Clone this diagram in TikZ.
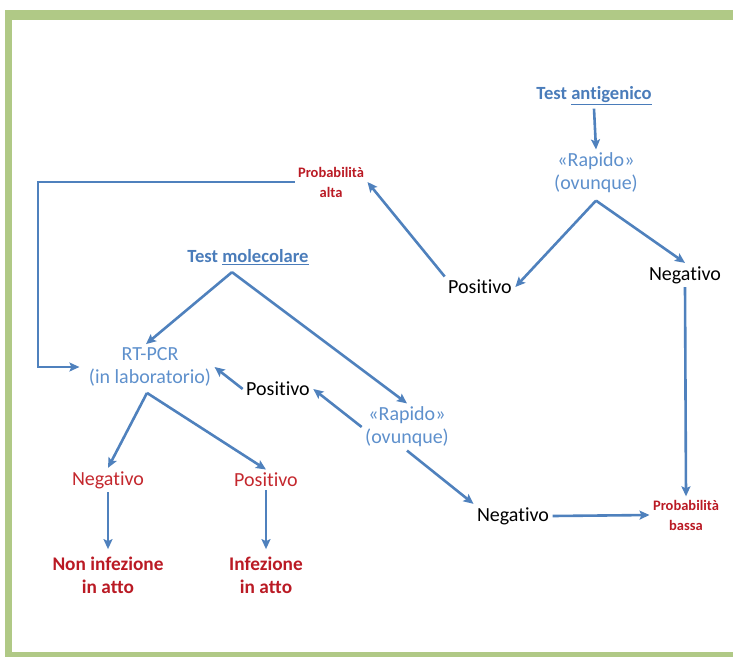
\documentclass[tikz,border=0pt]{standalone}
\usepackage{fontspec}
\setmainfont{Carlito}[Ligatures=NoCommon]
\usetikzlibrary{arrows.meta}
\definecolor{frameg}{RGB}{176,201,134}
\definecolor{arrb}{RGB}{79,129,189}
\definecolor{txtb}{RGB}{94,144,204}
\definecolor{titb}{RGB}{74,124,186}
\definecolor{txtr}{RGB}{196,40,46}
\definecolor{boldr}{RGB}{186,26,36}
\tikzset{
  arr/.style={draw=arrb,line width=2.6pt,-{Stealth[length=10pt,width=9pt,inset=2pt]}},
  title/.style={text=titb,font=\fontsize{18.6}{21}\selectfont\bfseries},
  test/.style={text=txtb,align=center,font=\fontsize{20}{23}\selectfont},
  result/.style={text=black,font=\fontsize{20}{22}\selectfont},
  outcome/.style={text=txtr,font=\fontsize{20}{22}\selectfont},
  prob/.style={text=boldr,align=center,font=\fontsize{14.5}{20}\selectfont\bfseries},
  final/.style={text=boldr,align=center,font=\fontsize{19.3}{23}\selectfont\bfseries}
}
\begin{document}
\begin{tikzpicture}[x=1pt,y=-1pt]
\useasboundingbox (0,0) rectangle (733,657);
\fill[frameg] (5,10) rectangle (733,20);
\fill[frameg] (5,10) rectangle (12,657);
\fill[frameg] (5,652) rectangle (733,657);

\node[title] (tant) at (594,96) {Test \underline{antigenico}};
\node[test] (rapA) at (596,173) {«Rapido»\\(ovunque)};
\node[result] (posA) at (480,287) {Positivo};
\node[result] (negA) at (685,275) {Negativo};
\node[prob] (palta) at (331,182) {Probabilità\\alta};
\node[prob] (pbassa) at (686,515) {Probabilità\\bassa};

\node[title] (tmol) at (248,257) {Test \underline{molecolare}};
\node[test] (rtpcr) at (150,367) {RT-PCR\\(in laboratorio)};
\node[test] (rapM) at (407,427) {«Rapido»\\(ovunque)};
\node[result] (posM) at (278,389) {Positivo};
\node[result] (negM) at (513,516) {Negativo};
\node[outcome] (negL) at (108,480) {Negativo};
\node[outcome] (posL) at (266,480) {Positivo};
\node[final] (noinf) at (108,575) {Non infezione\\in atto};
\node[final] (inf) at (266,575) {Infezione\\in atto};
\coordinate (corner) at (38,182);

\draw[arr] (tant.south) -- (rapA.north);
\draw[arr] ([yshift=-4pt]rapA.south) -- (posA.east);
\draw[arr] ([yshift=-4pt]rapA.south) -- (negA.north);
\draw[arr] (posA.north west) -- (palta.east);
\draw[arr] (negA.south) -- (pbassa.north);
\draw[arr] (palta.west) -- (corner) |- ([xshift=-6pt]rtpcr.west);

\draw[arr] ([xshift=-16pt,yshift=-4pt]tmol.south) -- ([xshift=-4pt]rtpcr.north);
\draw[arr] ([xshift=-16pt,yshift=-4pt]tmol.south) -- (rapM.north);
\draw[arr] (rapM.west) -- (posM.east);
\draw[arr] (posM.west) -- (rtpcr.east);
\draw[arr] (rapM.south) -- (negM.north west);
\draw[arr] (negM.east) -- (pbassa.west);
\draw[arr] ([xshift=-3pt,yshift=-3pt]rtpcr.south) -- (negL.north);
\draw[arr] ([xshift=-3pt,yshift=-3pt]rtpcr.south) -- (posL.north);
\draw[arr] (negL.south) -- ([yshift=4pt]noinf.north);
\draw[arr] (posL.south) -- ([yshift=4pt]inf.north);
\end{tikzpicture}
\end{document}
